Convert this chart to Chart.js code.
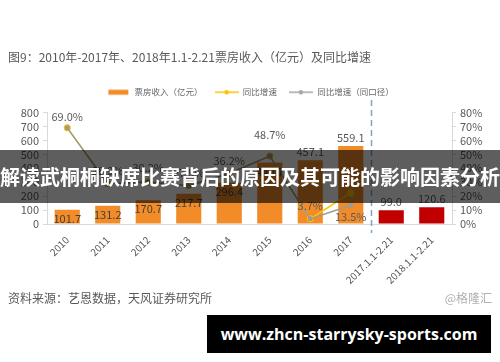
<!DOCTYPE html>
<html>
<head>
<meta charset="utf-8">
<script src="https://cdn.jsdelivr.net/npm/chart.js@4.4.0/dist/chart.umd.min.js"></script>
<style>
  html, body { margin: 0; padding: 0; background: #fff; }
  #wrap { position: relative; width: 500px; height: 362px; overflow: hidden;
          font-family: "Noto Sans CJK SC", "Noto Sans", sans-serif; }
  #myChart { position: absolute; left: 0; top: 0; }
  .title { position: absolute; left: 8px; top: 48px; font-size: 12px; color: #595959; white-space: nowrap; }
  .source { position: absolute; left: 8px; top: 289px; font-size: 12px; color: #595959; white-space: nowrap; }
  .brand { position: absolute; right: 8px; top: 289px; font-size: 12px; color: #b0b0b0; white-space: nowrap; }
  .banner { position: absolute; left: 0; top: 150px; width: 500px; height: 53px; line-height: 53px;
            background: rgba(0, 0, 0, 0.63); color: #fff; font-size: 20px; font-weight: bold;
            text-align: center; white-space: nowrap; }
  .mark { position: absolute; left: 207px; top: 315px; width: 284px; height: 38px; line-height: 38px;
          background: #000; color: #fff; font-family: "Open Sans", "DejaVu Sans", sans-serif;
          font-size: 16px; font-weight: bold; text-align: center; white-space: nowrap; }
</style>
</head>
<body>
<div id="wrap">
  <canvas id="myChart" width="500" height="362"></canvas>
  <div class="title">图9：2010年-2017年、2018年1.1-2.21票房收入（亿元）及同比增速</div>
  <div class="source">资料来源：艺恩数据，天风证券研究所</div>
  <div class="brand">@格隆汇</div>
  <div class="banner">解读武桐桐缺席比赛背后的原因及其可能的影响因素分析</div>
  <div class="mark">www.zhcn-starrysky-sports.com</div>
</div>
<script>
// 数据
var categories = ['2010', '2011', '2012', '2013', '2014', '2015', '2016', '2017', '2017.1.1-2.21', '2018.1.1-2.21'];
var boxOffice = [101.7, 131.2, 170.7, 217.7, 296.4, 440.7, 457.1, 559.1, 99.0, 120.6];
var growth = [69.0, 28.9, 30.2, 27.5, 36.2, 48.7, 3.7, 22.3, null, null];
var growthSame = [69.0, 28.9, 30.2, 27.5, 36.2, 48.7, 3.7, 13.5, null, null];
var leftTicks = [0, 800, 100];
var rightTicks = [0, 80, 10];

// 标签偏移（像素）
var growthLabelShift = [-11, -13, -14, -13, -13, -21, -13, 12];

var orange = '#F28C28';
var red = '#C00000';
var gold = '#FFC000';
var grey = '#9B9B8E';
var fontFam = '"Noto Sans CJK SC", "Noto Sans", sans-serif';

function legendIcon(type, color) {
  var c = document.createElement('canvas');
  c.width = 24; c.height = 8;
  var g = c.getContext('2d');
  if (type === 'bar') {
    g.fillStyle = color;
    g.fillRect(2, 1.5, 20, 5);
  } else {
    g.strokeStyle = color; g.lineWidth = 1.5;
    g.beginPath(); g.moveTo(0, 4); g.lineTo(24, 4); g.stroke();
    g.fillStyle = color;
    g.beginPath(); g.arc(12, 4, 2.2, 0, Math.PI * 2); g.fill();
  }
  return c;
}
var legendIcons = [legendIcon('bar', orange), legendIcon('line', gold), legendIcon('line', '#A5A5A5')];

// 图例下方留出空隙
var legendGap = {
  id: 'legendGap',
  afterInit: function (chart) {
    var lg = chart.legend;
    var fit = lg.fit;
    lg.fit = function () {
      fit.apply(this, arguments);
      this.height += 6;
    };
  }
};

var valueLabels = {
  id: 'valueLabels',
  afterDatasetsDraw: function (chart) {
    var ctx = chart.ctx;
    ctx.save();
    ctx.font = '11px ' + fontFam;
    ctx.textAlign = 'center';
    ctx.textBaseline = 'middle';
    chart.getDatasetMeta(0).data.forEach(function (b, i) {
      var inside = i < 6;
      ctx.fillStyle = inside ? '#3f3f3f' : '#595959';
      ctx.fillText(boxOffice[i].toFixed(1), b.x, inside ? b.y + 9 : b.y - 8);
    });
    ctx.fillStyle = '#595959';
    chart.getDatasetMeta(2).data.forEach(function (p, i) {
      if (growthSame[i] == null) return;
      ctx.fillText(growthSame[i].toFixed(1) + '%', p.x, p.y + growthLabelShift[i]);
    });
    // 分隔虚线
    var xs = chart.scales.x;
    var x = Math.round((xs.getPixelForValue(7) + xs.getPixelForValue(8)) / 2) + 0.5;
    ctx.strokeStyle = '#7FA3C8';
    ctx.lineWidth = 1.5;
    ctx.setLineDash([6, 4]);
    ctx.beginPath();
    ctx.moveTo(x, 100);
    ctx.lineTo(x, 233);
    ctx.stroke();
    ctx.restore();
  }
};

var ctx = document.getElementById('myChart').getContext('2d');

var data = {
  labels: categories,
  datasets: [{
    type: 'bar',
    label: '票房收入（亿元）',
    data: boxOffice,
    backgroundColor: boxOffice.map(function (v, i) { return i < 8 ? orange : red; }),
    barPercentage: 0.62,
    categoryPercentage: 1,
    yAxisID: 'y',
    order: 3
  }, {
    type: 'line',
    label: '同比增速',
    data: growth,
    borderColor: gold,
    backgroundColor: gold,
    borderWidth: 1.5,
    pointRadius: 3.5,
    pointBorderWidth: 0,
    tension: 0,
    yAxisID: 'y1',
    order: 2
  }, {
    type: 'line',
    label: '同比增速（同口径）',
    data: growthSame,
    borderColor: grey,
    backgroundColor: grey,
    borderWidth: 1.5,
    pointRadius: 2.5,
    pointBorderWidth: 0,
    tension: 0,
    yAxisID: 'y1',
    order: 1
  }]
};

var options = {
  responsive: false,
  animation: false,
  layout: { padding: { top: 76, left: 0, right: 0, bottom: 0 } },
  plugins: {
    tooltip: { enabled: false },
    legend: {
      position: 'top',
      labels: {
        usePointStyle: true,
        pointStyleWidth: 24,
        padding: 12,
        font: { size: 8.5, family: fontFam },
        color: '#666',
        generateLabels: function (chart) {
          return chart.data.datasets.map(function (ds, i) {
            return {
              text: ds.label, pointStyle: legendIcons[i], datasetIndex: i,
              hidden: false, lineWidth: 0, fillStyle: 'transparent',
              strokeStyle: 'transparent', fontColor: '#666'
            };
          });
        }
      }
    }
  },
  scales: {
    x: {
      grid: { display: false },
      border: { color: '#d9d9d9' },
      ticks: { minRotation: 45, maxRotation: 45, color: '#595959', font: { size: 10, family: fontFam }, padding: 2 },
      afterFit: function (s) { s.height = 138; }
    },
    y: {
      position: 'left',
      min: leftTicks[0], max: leftTicks[1],
      ticks: { stepSize: leftTicks[2], autoSkip: false, color: '#595959', font: { size: 11, family: fontFam }, padding: 4 },
      grid: { drawOnChartArea: false, tickLength: 4, color: '#d9d9d9' },
      border: { color: '#d9d9d9' },
      afterFit: function (s) { s.width = 47; }
    },
    y1: {
      position: 'right',
      min: rightTicks[0], max: rightTicks[1],
      ticks: { stepSize: rightTicks[2], autoSkip: false, color: '#595959', font: { size: 11, family: fontFam }, padding: 4,
               callback: function (v) { return v + '%'; } },
      grid: { drawOnChartArea: false, tickLength: 4, color: '#d9d9d9' },
      border: { color: '#d9d9d9' },
      afterFit: function (s) { s.width = 48; }
    }
  }
};

var myChart = new Chart(ctx, {
  data: data,
  options: options,
  plugins: [legendGap, valueLabels]
});
</script>
</body>
</html>
